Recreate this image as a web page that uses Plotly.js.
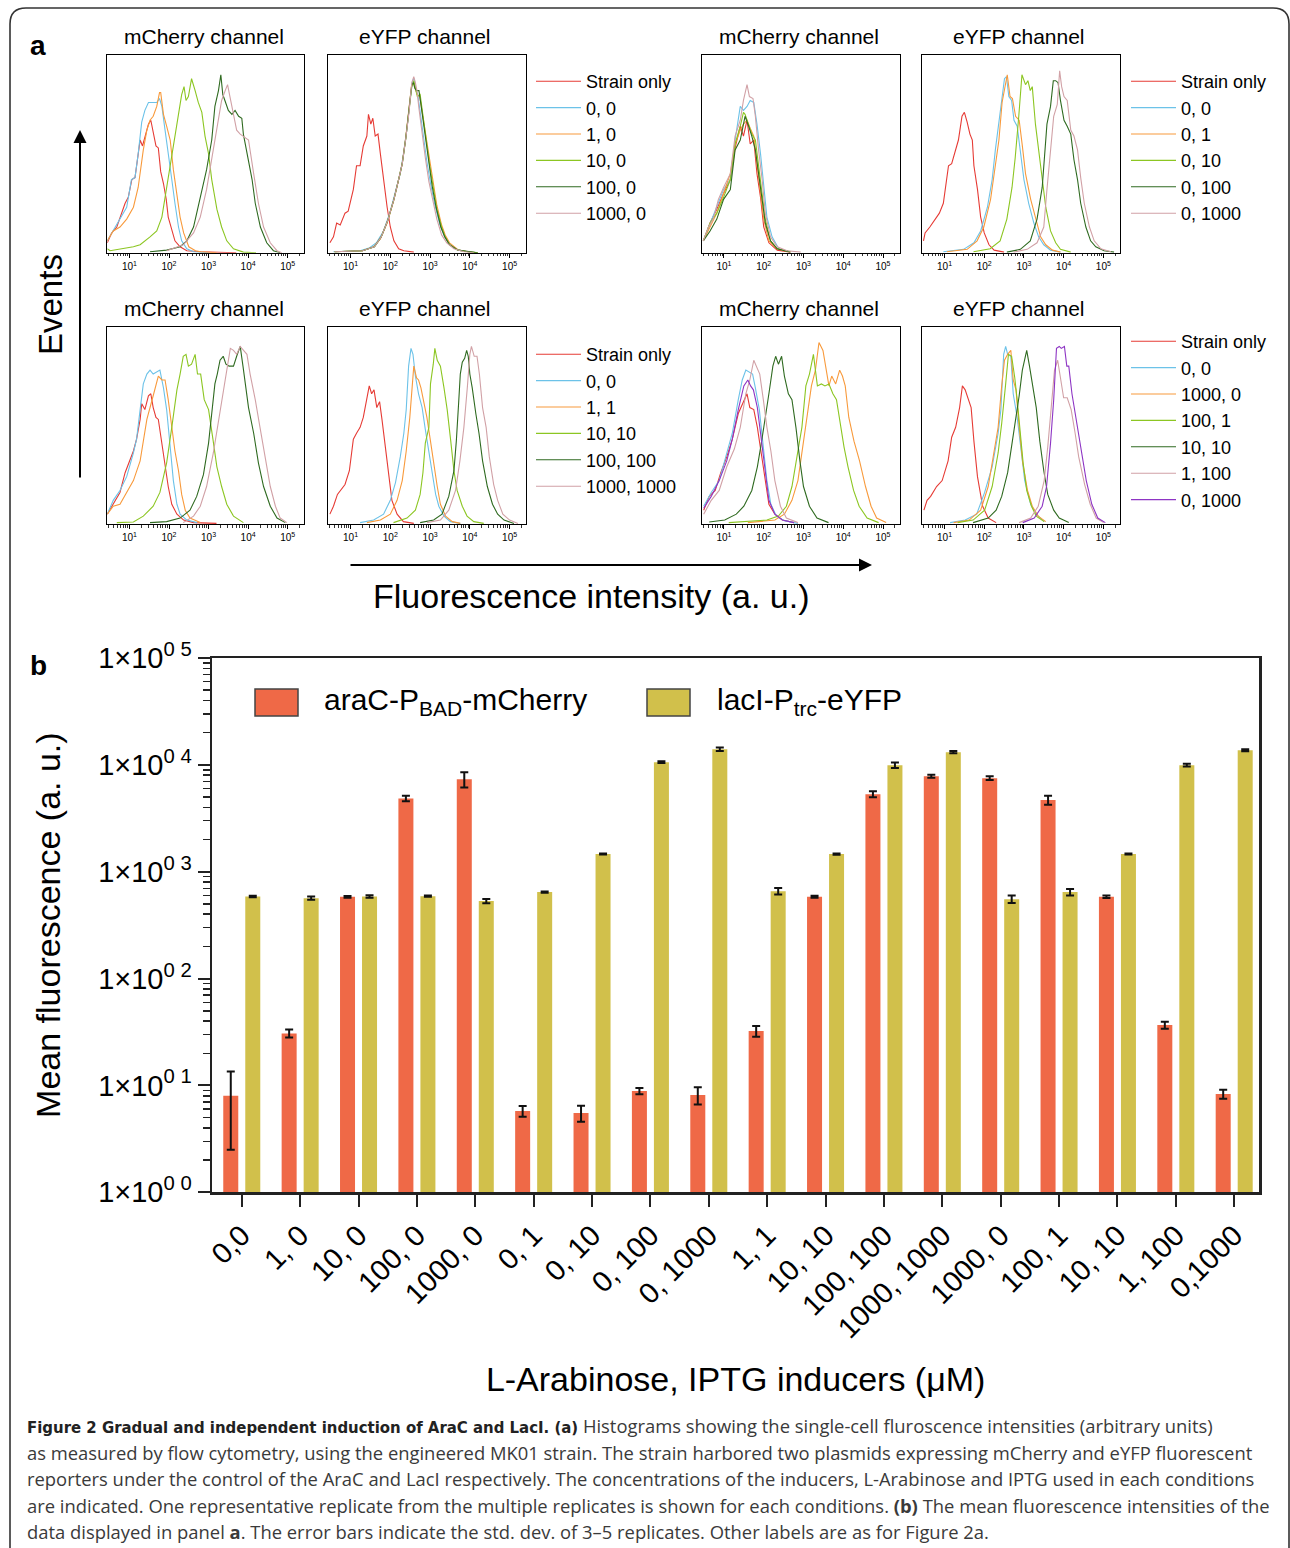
<!DOCTYPE html>
<html><head><meta charset="utf-8">
<script src="https://cdn.plot.ly/plotly-3.0.1.min.js"></script>
<style>body{margin:0;background:#fff}#chart{width:1290px;height:1548px}</style>
</head><body><div id="chart"></div>
<script>
// ================= DATA =================
// Panel a: histograms, x = log10(fluorescence), y = events (% of frame height)
const legendTop = ["Strain only", "0, 0", "1, 0", "10, 0", "100, 0", "1000, 0"];
const legendTopR = ["Strain only", "0, 0", "0, 1", "0, 10", "0, 100", "0, 1000"];
const legendBot = ["Strain only", "0, 0", "1, 1", "10, 10", "100, 100", "1000, 1000"];
const legendBotR = ["Strain only", "0, 0", "1000, 0", "100, 1", "10, 10", "1, 100", "0, 1000"];

// top-left, mCherry
const a1_s = [[0.44,5],[0.55,10],[0.68,13],[0.80,20],[0.89,25],[0.97,28],[1.06,37],[1.14,38],[1.22,49],[1.27,57],[1.33,54],[1.39,59],[1.48,65],[1.54,67],[1.59,62],[1.63,57],[1.67,54],[1.73,53],[1.79,41],[1.86,35],[1.93,27],[1.98,18],[2.07,12],[2.15,6],[2.28,3],[2.45,1],[2.8,0.5],[3.3,0.3],[3.7,0]];
const a1_1 = [[0.44,6],[0.59,11],[0.76,17],[0.93,23],[1.05,37],[1.14,38],[1.22,50],[1.31,66],[1.39,72],[1.48,76],[1.52,76],[1.60,76],[1.69,76],[1.76,78],[1.82,74],[1.90,62],[1.98,49],[2.07,37],[2.15,25],[2.24,13],[2.32,6],[2.45,2],[2.62,0.5],[3.0,0]];
const a1_2 = [[0.44,6],[0.59,11],[0.76,13],[0.93,17],[1.10,23],[1.22,33],[1.35,52],[1.44,62],[1.52,67],[1.60,69],[1.69,74],[1.76,81],[1.79,81],[1.86,70],[1.94,64],[2.03,57],[2.11,42],[2.20,30],[2.28,18],[2.37,10],[2.50,3],[2.67,1],[2.80,0.5],[3.2,0]];
const a1_3 = [[0.44,2],[0.51,1],[1.10,3],[1.27,4],[1.52,8],[1.69,11],[1.82,18],[1.94,33],[2.07,50],[2.15,60],[2.24,69],[2.32,80],[2.38,84],[2.43,77],[2.49,79],[2.57,88],[2.66,82],[2.74,76],[2.83,71],[2.91,59],[3.00,50],[3.08,37],[3.21,22],[3.33,13],[3.46,6],[3.63,2],[3.88,0.3],[4.2,0]];
const a1_4 = [[1.52,0.5],[1.94,1.3],[2.28,3],[2.45,6],[2.62,13],[2.79,28],[2.95,42],[3.08,57],[3.16,74],[3.25,82],[3.31,90],[3.36,80],[3.42,77],[3.50,72],[3.59,70],[3.67,72],[3.76,69],[3.84,68],[3.88,60],[3.97,50],[4.10,37],[4.18,25],[4.31,13],[4.47,5],[4.64,1],[4.81,0]];
const a1_5 = [[1.94,1],[2.36,4],[2.62,10],[2.79,18],[2.95,32],[3.12,52],[3.25,69],[3.33,77],[3.42,82],[3.48,85],[3.54,79],[3.63,70],[3.71,62],[3.80,60],[3.88,59],[4.01,57],[4.14,40],[4.26,25],[4.39,13],[4.56,5],[4.73,1],[4.85,0]];
// top-left, eYFP
const a2_s = [[0.48,5],[0.57,8],[0.65,15],[0.74,14],[0.86,20],[0.94,21],[1.07,32],[1.15,44],[1.24,44],[1.32,54],[1.41,59],[1.45,70],[1.51,65],[1.56,68],[1.62,59],[1.69,60],[1.75,50],[1.83,37],[1.92,23],[2.00,13],[2.09,6],[2.21,2],[2.34,1],[2.59,0.3]];
const a2_1 = [[0.57,0.5],[1.24,1],[1.48,2.5],[1.65,5],[1.83,11],[2.00,21],[2.13,31],[2.25,40],[2.33,50],[2.42,63],[2.50,78],[2.56,87],[2.60,88],[2.64,82],[2.69,80],[2.74,72],[2.82,60],[2.92,46],[3.02,34],[3.12,24],[3.25,14],[3.37,8],[3.50,4],[3.70,1.5],[3.95,0.5],[4.2,0]];
const a2_2 = [[0.6,0.5],[1.3,1],[1.58,3],[1.75,7],[1.92,15],[2.08,26],[2.21,37],[2.29,44],[2.38,57],[2.46,70],[2.53,84],[2.58,86],[2.62,84],[2.67,80],[2.74,79],[2.81,70],[2.90,58],[2.99,46],[3.08,35],[3.17,24],[3.29,14],[3.38,9],[3.49,5],[3.70,1.5],[3.95,0.5],[4.2,0]];
const a2_3 = [[0.6,0.5],[1.3,1],[1.6,3],[1.77,8],[1.93,16],[2.09,27],[2.22,38],[2.30,45],[2.39,58],[2.47,71],[2.54,84],[2.59,87],[2.63,84],[2.68,79],[2.75,80],[2.82,69],[2.90,56],[2.99,44],[3.08,33],[3.17,22],[3.29,13],[3.38,8],[3.49,4],[3.70,1.3],[3.95,0.5],[4.2,0]];
const a2_4 = [[0.6,0.5],[1.3,1],[1.6,3],[1.77,8],[1.93,16],[2.09,27],[2.22,38],[2.30,45],[2.39,58],[2.47,71],[2.54,85],[2.58,86],[2.62,83],[2.67,82],[2.72,82],[2.77,75],[2.86,62],[2.95,48],[3.05,34],[3.15,23],[3.27,13],[3.37,8],[3.49,4],[3.70,1.3],[3.95,0.5],[4.2,0]];
const a2_5 = [[0.6,0.5],[1.3,1],[1.6,3],[1.77,8],[1.93,16],[2.09,27],[2.22,38],[2.30,45],[2.39,58],[2.47,71],[2.54,86],[2.59,89],[2.63,86],[2.67,82],[2.72,73],[2.80,60],[2.88,48],[2.97,36],[3.07,26],[3.17,17],[3.29,9],[3.42,5],[3.60,2],[3.85,0.5],[4.1,0]];
// top-right, mCherry
const a3_s = [[0.48,6],[0.65,15],[0.82,22],[0.99,30],[1.16,37],[1.28,53],[1.41,64],[1.49,59],[1.58,67],[1.66,55],[1.75,57],[1.83,40],[1.92,28],[2.00,13],[2.13,5],[2.34,1.3],[2.67,0.3]];
const a3_1 = [[0.48,6],[0.65,15],[0.82,23],[0.99,32],[1.16,37],[1.28,57],[1.41,74],[1.49,72],[1.58,74],[1.66,77],[1.75,76],[1.83,65],[1.92,50],[2.00,33],[2.08,18],[2.21,8],[2.38,2],[2.67,0.5]];
const a3_2 = [[0.48,6],[0.65,13],[0.82,20],[0.99,30],[1.16,40],[1.28,55],[1.41,62],[1.49,65],[1.58,67],[1.66,63],[1.75,59],[1.83,45],[1.92,30],[2.00,17],[2.13,6],[2.34,2],[2.67,0.3]];
const a3_3 = [[0.48,6],[0.65,15],[0.82,20],[0.99,28],[1.16,37],[1.28,55],[1.41,64],[1.49,71],[1.53,70],[1.62,65],[1.70,60],[1.79,57],[1.87,44],[1.96,30],[2.04,17],[2.17,6],[2.34,2],[2.67,0.5]];
const a3_4 = [[0.48,6],[0.65,11],[0.82,17],[0.99,27],[1.16,32],[1.28,52],[1.41,57],[1.53,69],[1.62,64],[1.70,59],[1.79,52],[1.87,40],[1.96,27],[2.04,15],[2.17,6],[2.34,2],[2.67,0.3]];
const a3_5 = [[0.48,6],[0.61,13],[0.73,17],[0.86,27],[0.99,33],[1.16,40],[1.28,59],[1.41,67],[1.49,77],[1.58,85],[1.64,79],[1.73,78],[1.79,69],[1.87,52],[1.96,37],[2.04,20],[2.17,8],[2.34,3],[2.59,1],[2.93,0.3]];
// top-right, eYFP
const a4_s = [[0.47,6],[0.51,10],[0.63,13],[0.76,17],[0.87,20],[0.97,25],[1.10,44],[1.18,45],[1.27,52],[1.35,57],[1.44,69],[1.50,71],[1.57,66],[1.64,60],[1.70,57],[1.74,44],[1.83,32],[1.91,18],[2.00,10],[2.12,4],[2.25,1.3],[2.50,0.3]];
const a4_1 = [[0.97,0.5],[1.48,1.7],[1.74,5],[1.91,11],[2.08,23],[2.20,37],[2.28,52],[2.37,66],[2.45,79],[2.51,88],[2.56,89],[2.62,79],[2.69,77],[2.75,67],[2.83,64],[2.91,50],[3.00,37],[3.12,25],[3.25,15],[3.37,8],[3.50,4],[3.67,1.3],[3.92,0.3]];
const a4_2 = [[1.06,0.5],[1.57,1.7],[1.82,6],[1.99,13],[2.16,27],[2.28,44],[2.37,57],[2.45,76],[2.54,87],[2.58,90],[2.65,79],[2.71,78],[2.79,69],[2.88,67],[2.96,54],[3.04,40],[3.17,27],[3.30,17],[3.42,8],[3.55,4],[3.72,1.3],[3.92,0.3]];
const a4_3 = [[1.73,0.5],[2.15,2],[2.40,6],[2.57,17],[2.70,33],[2.78,48],[2.87,69],[2.91,80],[2.95,90],[3.04,85],[3.10,87],[3.16,82],[3.21,84],[3.29,65],[3.38,50],[3.46,35],[3.55,23],[3.67,11],[3.80,5],[3.92,1.7],[4.18,0.3]];
const a4_4 = [[2.57,0.3],[2.91,1.7],[3.16,6],[3.33,17],[3.46,33],[3.54,57],[3.58,65],[3.67,74],[3.74,87],[3.80,87],[3.86,86],[3.92,77],[4.01,67],[4.09,64],[4.18,60],[4.26,47],[4.35,37],[4.43,25],[4.56,13],[4.68,6],[4.81,3],[5.02,1],[5.27,0.3]];
const a4_5 = [[2.74,0.3],[3.08,1.7],[3.33,5],[3.50,13],[3.58,32],[3.67,52],[3.75,69],[3.84,75],[3.90,92],[3.95,84],[4.01,79],[4.09,77],[4.18,62],[4.26,59],[4.35,52],[4.43,38],[4.52,25],[4.65,13],[4.77,6],[4.94,2],[5.19,0.5]];
// bottom-left, mCherry
const b1_s = [[0.44,5],[0.59,10],[0.76,16],[0.89,26],[1.01,32],[1.10,37],[1.18,43],[1.27,53],[1.31,61],[1.39,58],[1.48,65],[1.54,66],[1.60,59],[1.67,54],[1.73,53],[1.82,41],[1.90,32],[1.98,19],[2.07,10],[2.20,5],[2.37,2],[2.62,0.7],[3.2,0.3]];
const b1_1 = [[0.44,5],[0.59,12],[0.76,17],[0.93,24],[1.10,36],[1.18,43],[1.27,58],[1.35,71],[1.44,76],[1.52,78],[1.60,76],[1.69,77],[1.77,78],[1.86,69],[1.94,58],[2.03,39],[2.11,22],[2.20,10],[2.28,5],[2.45,2],[2.71,0.7]];
const b1_2 = [[0.44,5],[0.59,9],[0.76,10],[0.93,16],[1.10,22],[1.27,32],[1.44,53],[1.60,65],[1.73,75],[1.82,73],[1.90,73],[1.98,63],[2.07,49],[2.15,37],[2.24,27],[2.32,15],[2.41,7],[2.53,3],[2.79,0.7]];
const b1_3 = [[0.68,0.7],[1.10,1],[1.35,4],[1.60,9],[1.77,16],[1.94,31],[2.07,49],[2.20,68],[2.28,76],[2.36,85],[2.43,86],[2.49,80],[2.57,81],[2.66,86],[2.72,76],[2.80,76],[2.89,63],[3.00,58],[3.11,43],[3.21,29],[3.33,19],[3.46,10],[3.63,4],[3.88,0.7]];
const b1_4 = [[1.52,0.7],[1.94,1.2],[2.28,3],[2.53,7],[2.70,14],[2.87,25],[3.00,41],[3.08,57],[3.16,71],[3.22,76],[3.29,83],[3.37,85],[3.44,81],[3.52,80],[3.63,80],[3.71,85],[3.80,90],[3.87,80],[3.93,70],[4.01,59],[4.14,46],[4.26,31],[4.39,19],[4.56,9],[4.73,3],[4.94,0.7]];
const b1_5 = [[2.36,0.7],[2.62,4],[2.79,9],[2.95,19],[3.12,36],[3.25,52],[3.37,68],[3.46,80],[3.55,89],[3.63,88],[3.71,86],[3.80,90],[3.88,88],[3.97,86],[4.05,76],[4.18,63],[4.30,49],[4.43,34],[4.56,19],[4.69,9],[4.81,3],[4.98,0.7]];
// bottom-left, eYFP
const b2_s = [[0.48,5],[0.57,9],[0.67,15],[0.75,17],[0.86,20],[0.97,27],[1.07,43],[1.15,46],[1.24,49],[1.32,54],[1.41,63],[1.47,70],[1.53,66],[1.59,68],[1.66,59],[1.73,62],[1.79,53],[1.87,39],[1.96,24],[2.04,12],[2.17,5],[2.33,1.2],[2.59,0.3]];
const b2_1 = [[1.24,0.7],[1.58,2],[1.83,5],[2.00,12],[2.13,21],[2.25,34],[2.34,46],[2.40,58],[2.46,80],[2.52,89],[2.57,86],[2.63,75],[2.71,66],[2.80,59],[2.88,48],[2.97,36],[3.05,26],[3.14,15],[3.22,9],[3.35,4],[3.51,1.2],[3.76,0.3]];
const b2_2 = [[1.41,0.7],[1.75,2],[2.00,5],[2.17,12],[2.30,22],[2.40,37],[2.49,54],[2.55,71],[2.59,80],[2.66,74],[2.71,73],[2.77,69],[2.84,62],[2.92,54],[3.01,42],[3.09,30],[3.18,19],[3.26,10],[3.39,4],[3.56,1.2],[3.76,0.3]];
const b2_3 = [[2.08,0.7],[2.42,3],[2.63,7],[2.75,15],[2.82,26],[2.88,41],[2.97,49],[3.01,71],[3.08,81],[3.12,89],[3.18,83],[3.26,80],[3.35,69],[3.43,58],[3.52,42],[3.60,27],[3.68,17],[3.81,9],[3.93,4],[4.10,1.2],[4.35,0.3]];
const b2_4 = [[2.75,0.7],[3.09,2],[3.30,5],[3.47,14],[3.60,27],[3.66,42],[3.72,62],[3.76,76],[3.81,82],[3.87,84],[3.92,88],[3.96,85],[4.00,76],[4.06,69],[4.15,56],[4.23,46],[4.32,32],[4.44,19],[4.57,10],[4.70,5],[4.86,2],[5.11,0.3]];
const b2_5 = [[2.92,0.7],[3.26,2],[3.47,7],[3.64,17],[3.75,32],[3.85,49],[3.94,70],[4.00,86],[4.04,90],[4.11,85],[4.18,85],[4.24,76],[4.32,59],[4.41,49],[4.49,34],[4.60,20],[4.70,12],[4.83,5],[5.00,2],[5.21,0.3]];
// bottom-right, mCherry
const b3_s = [[0.49,7],[0.63,14],[0.78,17],[0.92,26],[1.07,34],[1.21,43],[1.36,56],[1.50,63],[1.58,66],[1.65,59],[1.75,58],[1.84,49],[1.94,36],[2.04,21],[2.13,10],[2.28,5],[2.47,2],[2.76,0.7]];
const b3_1 = [[0.49,9],[0.68,16],[0.88,22],[1.07,36],[1.21,46],[1.36,63],[1.46,73],[1.55,78],[1.65,77],[1.72,76],[1.79,69],[1.89,58],[1.99,39],[2.08,22],[2.18,10],[2.32,4],[2.52,1.7],[2.86,0.3]];
const b3_2 = [[1.60,0.7],[2.28,2],[2.52,5],[2.71,12],[2.86,22],[3.00,41],[3.10,54],[3.20,70],[3.30,78],[3.39,92],[3.49,88],[3.56,80],[3.64,70],[3.71,75],[3.81,71],[3.91,78],[3.98,75],[4.05,70],[4.14,54],[4.27,42],[4.41,32],[4.56,19],[4.70,9],[4.84,3],[5.08,0.7]];
const b3_3 = [[1.12,0.7],[2.08,2],[2.37,4],[2.57,9],[2.71,19],[2.86,36],[2.96,49],[3.06,70],[3.15,76],[3.25,86],[3.35,70],[3.45,71],[3.54,70],[3.64,71],[3.74,66],[3.83,63],[3.93,49],[4.02,39],[4.12,29],[4.26,17],[4.40,9],[4.60,3],[4.89,0.7]];
const b3_4 = [[0.63,1],[1.02,2],[1.31,5],[1.50,9],[1.70,17],[1.84,29],[1.94,41],[2.04,53],[2.13,66],[2.23,80],[2.30,85],[2.37,81],[2.45,85],[2.52,75],[2.62,66],[2.71,63],[2.81,49],[2.91,32],[3.00,19],[3.15,9],[3.34,3],[3.63,0.7]];
const b3_5 = [[0.49,5],[0.68,12],[0.88,17],[1.07,29],[1.26,38],[1.41,49],[1.55,66],[1.65,73],[1.75,83],[1.82,80],[1.90,76],[1.99,63],[2.08,49],[2.18,37],[2.28,22],[2.42,9],[2.57,3],[2.86,0.7]];
const b3_6 = [[0.49,8],[0.68,14],[0.88,22],[1.07,32],[1.21,43],[1.36,58],[1.50,70],[1.60,73],[1.67,70],[1.74,68],[1.84,59],[1.94,42],[2.04,26],[2.13,12],[2.28,5],[2.47,2],[2.76,0.7]];
// bottom-right, eYFP
const b4_s = [[0.48,7],[0.56,12],[0.65,14],[0.80,19],[0.94,22],[1.09,32],[1.18,44],[1.28,49],[1.38,59],[1.45,70],[1.52,68],[1.60,63],[1.67,59],[1.74,42],[1.83,24],[1.96,9],[2.10,3],[2.30,0.7]];
const b4_1 = [[1.14,0.7],[1.52,2],[1.81,5],[2.01,16],[2.20,29],[2.35,46],[2.42,58],[2.49,86],[2.54,90],[2.59,86],[2.67,85],[2.73,66],[2.83,54],[2.93,36],[3.02,22],[3.17,10],[3.31,5],[3.51,1.2]];
const b4_2 = [[1.23,0.7],[1.62,2],[1.91,7],[2.10,19],[2.25,37],[2.35,49],[2.44,70],[2.51,83],[2.59,86],[2.67,88],[2.73,73],[2.80,68],[2.88,49],[2.97,31],[3.09,17],[3.21,9],[3.36,4],[3.55,1.2]];
const b4_3 = [[1.33,0.7],[1.72,2],[2.01,7],[2.20,19],[2.35,36],[2.44,51],[2.54,71],[2.61,86],[2.69,85],[2.77,74],[2.83,63],[2.90,46],[2.98,31],[3.07,17],[3.19,9],[3.31,4],[3.51,1.2]];
const b4_4 = [[1.72,0.7],[2.10,3],[2.30,7],[2.44,14],[2.59,26],[2.69,39],[2.78,53],[2.88,65],[2.96,78],[3.02,83],[3.07,88],[3.14,80],[3.21,71],[3.31,59],[3.40,42],[3.50,27],[3.60,15],[3.75,7],[3.89,3],[4.13,0.7]];
const b4_5 = [[2.88,0.7],[3.17,3],[3.36,9],[3.51,22],[3.60,39],[3.70,63],[3.77,78],[3.85,83],[3.93,74],[4.00,64],[4.09,64],[4.19,58],[4.29,46],[4.38,34],[4.53,20],[4.67,10],[4.82,3],[5.01,0.7]];
const b4_6 = [[2.97,0.7],[3.26,3],[3.46,9],[3.57,19],[3.67,41],[3.75,63],[3.82,89],[3.89,90],[3.94,89],[4.02,90],[4.08,80],[4.13,80],[4.21,66],[4.31,54],[4.42,39],[4.57,22],[4.71,10],[4.86,3],[5.05,0.7]];

// Panel b: bar chart
const inducers = ["0,0","1, 0","10, 0","100, 0","1000, 0","0, 1","0, 10","0, 100","0, 1000","1, 1","10, 10","100, 100","1000, 1000","1000, 0","100, 1","10, 10","1, 100","0,1000"];
const mcherryMean = [8.0, 30.7, 582, 4850, 7350, 5.76, 5.52, 8.86, 8.13, 32.3, 583, 5320, 7840, 7510, 4680, 583, 36.7, 8.31];
const mcherrySD   = [5.5, 2.6, 10, 280, 1200, 0.66, 0.94, 0.6, 1.5, 3.7, 12, 350, 250, 300, 450, 15, 2.7, 0.8];
const eyfpMean = [587, 566, 587, 590, 531, 645, 1462, 10600, 14000, 658, 1462, 9940, 13150, 554, 645, 1462, 9940, 13720];
const eyfpSD   = [10, 20, 15, 8, 25, 8, 15, 200, 500, 45, 20, 600, 300, 45, 45, 15, 300, 300];
const yTickVals = [1, 10, 100, 1000, 10000, 100000];
const yTickText = ["1×10<sup>0 0</sup>","1×10<sup>0 1</sup>","1×10<sup>0 2</sup>","1×10<sup>0 3</sup>","1×10<sup>0 4</sup>","1×10<sup>0 5</sup>"];

// ================= STYLE / LAYOUT =================
const W = 1290, H = 1548;
const px = v => v / W, py = v => 1 - v / H;
const COL = {red:'#E63B35', blue:'#6CC2E8', orange:'#F89A3C', lime:'#8CC622', dark:'#2F6A20', pink:'#D1A1A6', purple:'#8E35C4'};
const BASE = "Liberation Sans, Arial, Helvetica, sans-serif";

const cols = [[107.3,304.3],[328.3,526.3],[701.7,899.7],[922.3,1120]];
const rows = [[55,252.7],[326.7,524]];

const panels = [
  {col:0,row:0,names:legendTop,  colors:['red','blue','orange','lime','dark','pink'], data:[a1_s,a1_1,a1_2,a1_3,a1_4,a1_5], legend:'legend'},
  {col:1,row:0,names:legendTop,  colors:['red','blue','orange','lime','dark','pink'], data:[a2_s,a2_1,a2_2,a2_3,a2_4,a2_5], legend:null},
  {col:2,row:0,names:legendTopR, colors:['red','blue','orange','lime','dark','pink'], data:[a3_s,a3_1,a3_2,a3_3,a3_4,a3_5], legend:'legend2'},
  {col:3,row:0,names:legendTopR, colors:['red','blue','orange','lime','dark','pink'], data:[a4_s,a4_1,a4_2,a4_3,a4_4,a4_5], legend:null},
  {col:0,row:1,names:legendBot,  colors:['red','blue','orange','lime','dark','pink'], data:[b1_s,b1_1,b1_2,b1_3,b1_4,b1_5], legend:'legend3'},
  {col:1,row:1,names:legendBot,  colors:['red','blue','orange','lime','dark','pink'], data:[b2_s,b2_1,b2_2,b2_3,b2_4,b2_5], legend:null},
  {col:2,row:1,names:legendBotR, colors:['red','blue','orange','lime','dark','pink','purple'], data:[b3_s,b3_1,b3_2,b3_3,b3_4,b3_5,b3_6], legend:'legend4'},
  {col:3,row:1,names:legendBotR, colors:['red','blue','orange','lime','dark','pink','purple'], data:[b4_s,b4_1,b4_2,b4_3,b4_4,b4_5,b4_6], legend:null}
];

const traces = [];
const layout = {
  width: W, height: H, margin:{l:0,r:0,t:0,b:0},
  paper_bgcolor:'#fff', plot_bgcolor:'rgba(0,0,0,0)',
  font:{family:BASE, color:'#000'},
  showlegend:true, barmode:'group', bargap:0.246, bargroupgap:0.318,
  annotations:[], shapes:[]
};

const minorVals = [];
for (let e = 0; e < 6; e++) for (let m = 2; m <= 9; m++) minorVals.push(m * Math.pow(10, e));

panels.forEach((p, i) => {
  const k = i + 1;
  const xa = k === 1 ? 'x' : 'x' + k, ya = k === 1 ? 'y' : 'y' + k;
  p.data.forEach((d, j) => {
    const t = {
      type:'scatter', mode:'lines', name:p.names[j],
      x:d.map(q => Math.pow(10, q[0])), y:d.map(q => q[1]),
      xaxis:xa, yaxis:ya, line:{color:COL[p.colors[j]], width:1.1}, hoverinfo:'skip',
      showlegend: !!p.legend
    };
    if (p.legend) t.legend = p.legend;
    traces.push(t);
  });
  const c = cols[p.col], r = rows[p.row];
  layout['xaxis' + (k === 1 ? '' : k)] = {
    type:'log', range:[0.44, 5.42], domain:[px(c[0]), px(c[1])], anchor:ya,
    showline:true, mirror:true, linecolor:'#000', linewidth:1, showgrid:false, zeroline:false,
    tickmode:'array', tickvals:[10,100,1000,10000,100000],
    ticktext:['10<sup>1</sup>','10<sup>2</sup>','10<sup>3</sup>','10<sup>4</sup>','10<sup>5</sup>'],
    ticks:'outside', ticklen:4, tickwidth:1, tickcolor:'#000',
    tickfont:{size:10, family:BASE},
    minor:{tickmode:'array', tickvals:minorVals, ticks:'outside', ticklen:2.5, tickwidth:0.8, tickcolor:'#000'}
  };
  layout['yaxis' + (k === 1 ? '' : k)] = {
    range:[0, 100], domain:[py(r[1]), py(r[0])], anchor:xa,
    showline:true, mirror:true, linecolor:'#000', linewidth:1, showgrid:false, zeroline:false,
    showticklabels:false, ticks:''
  };
});

// legends for panel a
const legBase = {xanchor:'left', yanchor:'top', bgcolor:'rgba(0,0,0,0)', borderwidth:0,
  font:{size:18, family:BASE, color:'#000'}, itemwidth:45, tracegroupgap:0, itemclick:false, itemdoubleclick:false};
layout.legend  = Object.assign({}, legBase, {x:px(531), y:py(63)});
layout.legend2 = Object.assign({}, legBase, {x:px(1126), y:py(63)});
layout.legend3 = Object.assign({}, legBase, {x:px(531), y:py(336)});
layout.legend4 = Object.assign({}, legBase, {x:px(1126), y:py(323)});

// bar chart
const xIdx = inducers.map((_, i) => i);
traces.push({
  type:'bar', name:'araC-P<sub>BAD</sub>-mCherry', x:xIdx, y:mcherryMean,
  error_y:{type:'data', array:mcherrySD, visible:true, color:'#111', thickness:2, width:4},
  marker:{color:'#EF6947'}, xaxis:'x9', yaxis:'y9', showlegend:false, hoverinfo:'skip'
});
traces.push({
  type:'bar', name:'lacI-P<sub>trc</sub>-eYFP', x:xIdx, y:eyfpMean,
  error_y:{type:'data', array:eyfpSD, visible:true, color:'#111', thickness:2, width:4},
  marker:{color:'#D1C04B'}, xaxis:'x9', yaxis:'y9', showlegend:false, hoverinfo:'skip'
});
layout.xaxis9 = {
  domain:[px(212), px(1259.3)], anchor:'y9', range:[-0.51, 17.43],
  tickmode:'array', tickvals:xIdx, ticktext:inducers, tickangle:-45,
  ticks:'outside', ticklen:12, tickwidth:2, tickcolor:'#222',
  tickfont:{size:29, family:BASE, color:'#000'},
  showline:true, linecolor:'#222', linewidth:2.5, mirror:true, showgrid:false, zeroline:false,
  title:{text:'L-Arabinose, IPTG inducers (μM)', font:{size:34, family:BASE, color:'#000'}, standoff:24}
};
layout.yaxis9 = {
  domain:[py(1192.3), py(658)], anchor:'x9', type:'log', range:[0, 5],
  tickmode:'array', tickvals:yTickVals, ticktext:yTickText,
  ticks:'outside', ticklen:12, tickwidth:2, tickcolor:'#222',
  tickfont:{size:29, family:BASE, color:'#000'},
  minor:{tickmode:'array', tickvals:minorVals.filter(v => v < 100000), ticks:'outside', ticklen:7, tickwidth:1.5, tickcolor:'#222'},
  showline:true, linecolor:'#222', linewidth:2.5, mirror:true, showgrid:false, zeroline:false,
  title:{text:'Mean fluorescence (a. u.)', font:{size:34, family:BASE, color:'#000'}, standoff:28}
};

// ---- annotations ----
const A = layout.annotations;
const txt = (x, y, text, size, opts) => A.push(Object.assign({
  xref:'paper', yref:'paper', x:px(x), y:py(y), text:text, showarrow:false,
  font:{size:size, family:BASE, color:'#000'}, xanchor:'center', yanchor:'middle'}, opts || {}));

txt(38, 45, '<b>a</b>', 28);
txt(38, 665, '<b>b</b>', 28);
['mCherry channel','eYFP channel','mCherry channel','eYFP channel'].forEach((t, i) => {
  const c = cols[i];
  txt((c[0] + c[1]) / 2 - 2, 36, t, 21);
  txt((c[0] + c[1]) / 2 - 2, 308, t, 21);
});
txt(50, 305, 'Events', 33, {textangle:-90});
txt(591, 596, 'Fluorescence intensity (a. u.)', 34);
// arrows
A.push({xref:'paper', yref:'paper', x:px(80), y:py(130), ax:0, ay:349, axref:'pixel', ayref:'pixel',
  text:'', showarrow:true, arrowhead:2, arrowsize:1.3, arrowwidth:2, arrowcolor:'#000'});
A.push({xref:'paper', yref:'paper', x:px(872), y:py(565), ax:-523, ay:0, axref:'pixel', ayref:'pixel',
  text:'', showarrow:true, arrowhead:2, arrowsize:1.3, arrowwidth:2, arrowcolor:'#000'});

// bar legend
layout.shapes.push({type:'rect', xref:'paper', yref:'paper', x0:px(255), x1:px(298), y0:py(716), y1:py(689),
  fillcolor:'#EF6947', line:{color:'#444', width:1.5}});
layout.shapes.push({type:'rect', xref:'paper', yref:'paper', x0:px(647), x1:px(690), y0:py(716), y1:py(689),
  fillcolor:'#D1C04B', line:{color:'#444', width:1.5}});
txt(322, 702, 'araC-P<sub>BAD</sub>-mCherry', 30, {xanchor:'left'});
txt(715, 702, 'lacI-P<sub>trc</sub>-eYFP', 30, {xanchor:'left'});

// caption
const CAP = "Open Sans, Noto Sans, sans-serif";
const capc = (x, y, text, size, fam, color) => A.push({xref:'paper', yref:'paper', x:px(x), y:py(y), text:text,
  showarrow:false, xanchor:'left', yanchor:'middle', align:'left', font:{size:size, family:fam, color:color}});
capc(25, 1425, '<span style="font-family:DejaVu Sans Condensed, sans-serif;font-size:16.6px;color:#222"><b>Figure 2 Gradual and independent induction of AraC and LacI. (a)</b></span> Histograms showing the single-cell fluroscence intensities (arbitrary units)', 18.4, CAP, '#3a3a3a');
capc(25, 1452, 'as measured by flow cytometry, using the engineered MK01 strain. The strain harbored two plasmids expressing mCherry and eYFP fluorescent', 18.4, CAP, '#3a3a3a');
capc(25, 1478, 'reporters under the control of the AraC and LacI respectively. The concentrations of the inducers, L-Arabinose and IPTG used in each conditions', 18.4, CAP, '#3a3a3a');
capc(25, 1505, 'are indicated. One representative replicate from the multiple replicates is shown for each conditions. <b>(b)</b> The mean fluorescence intensities of the', 18.4, CAP, '#3a3a3a');
capc(25, 1531, 'data displayed in panel <b>a</b>. The error bars indicate the std. dev. of 3–5 replicates. Other labels are as for Figure 2a.', 18.4, CAP, '#3a3a3a');

// outer rounded border
const bp = (x, y) => px(x) + ',' + py(y);
layout.shapes.push({type:'path', xref:'paper', yref:'paper', layer:'above',
  path:'M' + bp(10,1560) + ' L' + bp(10,24) + ' Q' + bp(10,8) + ' ' + bp(26,8) + ' L' + bp(1273,8) + ' Q' + bp(1289,8) + ' ' + bp(1289,24) + ' L' + bp(1289,1560),
  line:{color:'#333', width:1.6}});

Plotly.newPlot('chart', traces, layout, {staticPlot:true, displayModeBar:false});
</script>
</body></html>
